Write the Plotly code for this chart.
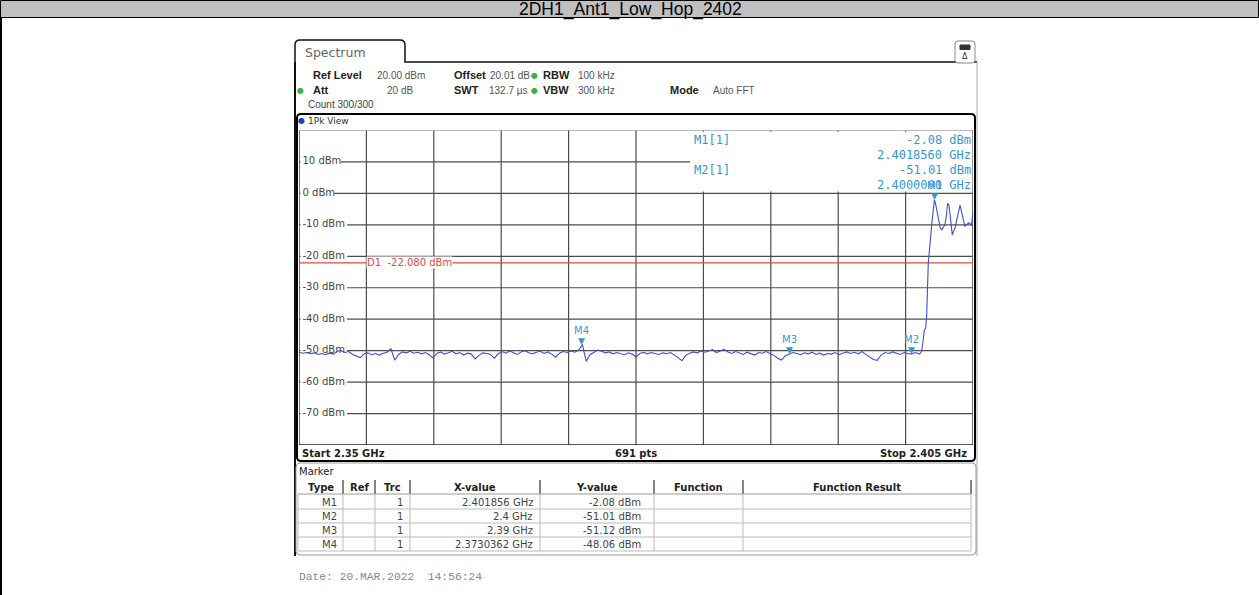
import numpy as np
import plotly.graph_objects as go

W, H = 1259, 595

# ---------------- data ----------------
freq_start_ghz, freq_stop_ghz = 2.35, 2.405
level_top_dbm, level_bottom_dbm = 20, -80

noise_start_ghz, noise_stop_ghz = 2.35, 2.40
noise_levels_dbm = [
    -50.4, -50.8, -50.6, -51.0, -50.7, -51.2, -50.9, -51.3, -50.8, -51.1,
    -50.2, -50.0, -50.6, -50.3, -51.2, -51.6, -52.2, -51.0, -50.7, -51.3,
    -50.9, -51.4, -50.8, -50.5, -49.4, -53.0, -51.2, -50.4, -50.7, -50.2,
    -50.8, -50.5, -51.0, -50.6, -51.3, -52.3, -50.9, -50.4, -51.1, -50.7,
    -50.2, -51.0, -50.6, -51.4, -50.8, -51.1, -52.6, -51.5, -50.7, -50.9,
    -51.2, -52.4, -51.0, -50.3, -50.8, -50.1, -50.6, -51.2, -50.4, -50.0,
    -50.7, -51.0, -50.5, -50.2, -50.9, -50.4, -51.1, -52.1, -50.8, -50.3,
    -50.6, -50.1, -50.5, -49.9, -48.06, -53.4, -51.3, -50.6, -49.8, -50.2,
    -50.7, -50.4, -51.0, -50.6, -50.9, -51.3, -50.7, -51.1, -52.0, -50.9,
    -50.5, -51.0, -50.6, -50.8, -51.2, -50.7, -51.0, -50.6, -51.3, -52.2,
    -53.2, -51.5, -50.8, -50.4, -50.7, -50.1, -50.5, -50.2, -49.7, -50.6,
    -50.0, -49.6, -50.4, -50.9, -50.3, -50.7, -51.2, -50.5, -50.9, -51.4,
    -50.6, -50.8, -50.3, -50.9, -51.5, -52.4, -53.0, -51.6, -51.12, -50.6,
    -50.9, -51.3, -50.7, -51.0, -50.5, -51.2, -50.8, -51.4, -50.9, -51.1,
    -50.6, -51.3, -50.8, -50.4, -50.9, -50.5, -51.0, -50.3, -51.2, -52.0,
    -52.8, -53.1, -51.4, -50.6, -50.9, -50.4, -50.8, -51.2, -50.6, -51.0,
    -51.01,
]
signal_freq_ghz = [
    2.40031, 2.40063, 2.40081, 2.40092, 2.40103, 2.40114, 2.40122, 2.40135,
    2.40149, 2.40163, 2.40175, 2.401856, 2.40198, 2.40217, 2.40233, 2.40245,
    2.40260, 2.40271, 2.40283, 2.40293, 2.40304, 2.40318, 2.40331, 2.40342,
    2.40353, 2.40370, 2.40385, 2.40394, 2.40408, 2.40421, 2.40433, 2.40448,
    2.40462, 2.40475, 2.40488, 2.40500,
]
signal_levels_dbm = [
    -50.6, -51.1, -50.3, -47.0, -43.4, -42.9, -38.7, -22.2,
    -14.8, -10.0, -5.5, -2.08, -4.0, -8.5, -11.0, -11.6,
    -10.8, -10.0, -7.0, -3.2, -3.7, -9.0, -13.2, -12.0,
    -11.1, -8.0, -4.5, -3.7, -6.0, -9.0, -10.4, -10.0,
    -9.4, -9.5, -10.2, -5.8,
]

marker_names = ["M1", "M2", "M3", "M4"]
marker_freq_ghz = [2.401856, 2.4, 2.39, 2.3730362]
marker_level_dbm = [-2.08, -51.01, -51.12, -48.06]
marker_x_text = ["2.401856 GHz", "2.4 GHz", "2.39 GHz", "2.3730362 GHz"]
marker_trace = ["1", "1", "1", "1"]

display_line_dbm = -22.08
y_tick_values = [10, 0, -10, -20, -30, -40, -50, -60, -70]
y_tick_labels = ["10 dBm", "0 dBm", "-10 dBm", "-20 dBm", "-30 dBm",
                 "-40 dBm", "-50 dBm", "-60 dBm", "-70 dBm"]
table_headers = ["Type", "Ref", "Trc", "X-value", "Y-value", "Function", "Function Result"]

# ---------------- styling helpers ----------------
UI = "DejaVu Sans"
HDR = "Liberation Sans"
MONO = "DejaVu Sans Mono"
MK = "#3a96d0"
TRACE = "#3f4fd0"
GRID = "#4d4d4d"

PLOT_X0, PLOT_X1 = 299, 973      # pixel extent of the grid
PLOT_Y0, PLOT_Y1 = 130.5, 445


def P(x):
    return x / W


def Q(y):
    return 1 - y / H


shapes = []
annotations = []


def line(x0, y0, x1, y1, color="#000", width=1, layer="above"):
    shapes.append(dict(type="line", xref="paper", yref="paper",
                       x0=P(x0), y0=Q(y0), x1=P(x1), y1=Q(y1),
                       line=dict(color=color, width=width), layer=layer))


def rect(x0, y0, x1, y1, fill=None, color=None, width=1, layer="above"):
    shapes.append(dict(type="rect", xref="paper", yref="paper",
                       x0=P(x0), y0=Q(y0), x1=P(x1), y1=Q(y1),
                       fillcolor=fill if fill else "rgba(0,0,0,0)",
                       line=dict(color=color if color else "rgba(0,0,0,0)", width=width),
                       layer=layer))


def rrect_path(x0, y0, x1, y1, r):
    return " ".join([
        f"M {P(x0 + r)},{Q(y0)}",
        f"L {P(x1 - r)},{Q(y0)}",
        f"Q {P(x1)},{Q(y0)} {P(x1)},{Q(y0 + r)}",
        f"L {P(x1)},{Q(y1 - r)}",
        f"Q {P(x1)},{Q(y1)} {P(x1 - r)},{Q(y1)}",
        f"L {P(x0 + r)},{Q(y1)}",
        f"Q {P(x0)},{Q(y1)} {P(x0)},{Q(y1 - r)}",
        f"L {P(x0)},{Q(y0 + r)}",
        f"Q {P(x0)},{Q(y0)} {P(x0 + r)},{Q(y0)} Z",
    ])


def text(s, x, y, anchor="left", size=10, color="#333", family=UI, bg=None,
         yanchor="middle", pad=1, yshift=0):
    d = dict(text=s, x=P(x), y=Q(y), xref="paper", yref="paper",
             xanchor=anchor, yanchor=yanchor, showarrow=False, borderpad=pad,
             yshift=yshift, font=dict(size=size, color=color, family=family))
    if bg:
        d["bgcolor"] = bg
    annotations.append(d)


# ---------------- grid (drawn as shapes below the trace) ----------------
div_ghz = (freq_stop_ghz - freq_start_ghz) / 10
for k in range(11):
    f = freq_start_ghz + k * div_ghz
    shapes.append(dict(type="line", xref="x", yref="paper", x0=f, x1=f,
                       y0=Q(PLOT_Y1), y1=Q(PLOT_Y0), layer="below",
                       line=dict(color="#222" if k in (0, 10) else GRID,
                                 width=1.3 if k in (0, 10) else 1.2)))
for v in range(level_bottom_dbm, level_top_dbm + 1, 10):
    shapes.append(dict(type="line", xref="paper", yref="y", x0=P(PLOT_X0), x1=P(PLOT_X1),
                       y0=v, y1=v, layer="below",
                       line=dict(color="#222" if v == level_bottom_dbm else
                                 ("#777" if v == level_top_dbm else GRID),
                                 width=1.3 if v == level_bottom_dbm else 1.2)))

# white area behind marker readouts (hides the grid there)
shapes.append(dict(type="rect", xref="paper", yref="paper",
                   x0=P(690), x1=P(972.3), y0=Q(191.5), y1=Q(131.8),
                   fillcolor="#fff", line=dict(width=0), layer="below"))

# y label backgrounds
for v, lab in zip(y_tick_values, y_tick_labels):
    w = 6.3 * len(lab) + 1
    shapes.append(dict(type="rect", xref="paper", yref="y",
                       x0=P(300.5), x1=P(302 + w), y0=v - 1.6, y1=v + 1.6,
                       fillcolor="#fff", line=dict(width=0), layer="below"))

# display line D1
shapes.append(dict(type="line", xref="paper", yref="y",
                   x0=P(PLOT_X0), x1=P(PLOT_X1),
                   y0=display_line_dbm, y1=display_line_dbm,
                   line=dict(color="#e04848", width=1.3), layer="below"))
annotations.append(dict(text=f"D1  {display_line_dbm:.3f} dBm", x=P(366), y=display_line_dbm,
                        xref="paper", yref="y", xanchor="left", yanchor="middle",
                        showarrow=False, bgcolor="#fff", borderpad=0,
                        font=dict(size=10, color="#e04848", family=UI)))

# ---------------- page frame ----------------
rect(0.5, 0.5, 1258.5, 17.5, fill="#c0c0c0", color="#000", width=1)
text("2DH1_Ant1_Low_Hop_2402", 630, 0, anchor="center", size=17.5,
     color="#000", family="Liberation Sans", yanchor="top", pad=0, yshift=2)
line(1, 17, 1, 595, width=2)

# ---------------- Spectrum panel ----------------
tab = (f"M {P(295)},{Q(62)} L {P(295)},{Q(45)} Q {P(295)},{Q(40)} {P(300)},{Q(40)} "
       f"L {P(400)},{Q(40)} Q {P(405)},{Q(40)} {P(405)},{Q(45)} L {P(405)},{Q(62)} "
       f"L {P(977)},{Q(62)}")
shapes.append(dict(type="path", xref="paper", yref="paper", path=tab,
                   line=dict(color="#111", width=1.5)))
line(295, 62, 295, 556, color="#111", width=2)
line(977, 62, 977, 556, color="#aaa", width=1)
text("Spectrum", 303, 52, size=12.5, color="#666")

# icon top right
shapes.append(dict(type="path", xref="paper", yref="paper",
                   path=rrect_path(955, 41, 975, 63, 3),
                   line=dict(color="#888", width=1), fillcolor="#fff"))
rect(960, 45, 970, 49.5, fill="#333", color="#333")
text("Δ", 965, 56.5, anchor="center", size=8, color="#333")

# header lines
GREEN = "#3cb043"
text("<b>Ref Level</b>", 311, 75, size=11, family=HDR, color="#222")
text("20.00 dBm", 375, 75, size=10, family=HDR, color="#555")
text("<b>Offset</b>", 452, 75, size=11, family=HDR, color="#222")
text("20.01 dB", 488, 75, size=10, family=HDR, color="#555")
text("●", 534, 75, anchor="center", size=8, color=GREEN)
text("<b>RBW</b>", 541, 75, size=11, family=HDR, color="#222")
text("100 kHz", 576, 75, size=10, family=HDR, color="#555")

text("●", 300, 90, anchor="center", size=8, color=GREEN)
text("<b>Att</b>", 311, 90, size=11, family=HDR, color="#222")
text("20 dB", 415, 90, anchor="right", size=10, family=HDR, color="#555")
text("<b>SWT</b>", 452, 90, size=11, family=HDR, color="#222")
text("132.7 µs", 487, 90, size=10, family=HDR, color="#555")
text("●", 534, 90, anchor="center", size=8, color=GREEN)
text("<b>VBW</b>", 541, 90, size=11, family=HDR, color="#222")
text("300 kHz", 576, 90, size=10, family=HDR, color="#555")
text("<b>Mode</b>", 668, 90, size=11, family=HDR, color="#222")
text("Auto FFT", 711, 90, size=10, family=HDR, color="#555")
text("Count 300/300", 306, 104, size=10, family=HDR, color="#444")

# plot box
shapes.append(dict(type="path", xref="paper", yref="paper",
                   path=rrect_path(297, 114, 975, 461, 4),
                   line=dict(color="#000", width=2)))
text("●", 301.5, 121, anchor="center", size=8, color="#2040c0")
text("1Pk View", 306, 121, size=9, color="#333")

# marker readouts
text("M1[1]", 692, 140, size=12, color=MK, family=MONO)
text(f"{marker_level_dbm[0]:.2f} dBm", 973, 140, anchor="right", size=12, color=MK, family=MONO)
text(f"{marker_freq_ghz[0]:.7f} GHz", 973, 155, anchor="right", size=12, color=MK, family=MONO)
text("M2[1]", 692, 170, size=12, color=MK, family=MONO)
text(f"{marker_level_dbm[1]:.2f} dBm", 973, 170, anchor="right", size=12, color=MK, family=MONO)
text(f"{marker_freq_ghz[1]:.7f} GHz", 973, 185, anchor="right", size=12, color=MK, family=MONO)

# markers on trace
for name, f, lv in zip(marker_names, marker_freq_ghz, marker_level_dbm):
    annotations.append(dict(text="▼", x=f, y=lv, xref="x", yref="y",
                            xanchor="center", yanchor="bottom", yshift=-3,
                            showarrow=False, font=dict(size=9, color=MK, family=UI)))
    annotations.append(dict(text=name, x=f, y=lv, xref="x", yref="y",
                            xanchor="center", yanchor="bottom", yshift=7,
                            showarrow=False, font=dict(size=10, color=MK, family=UI)))

# bottom row of plot
text("<b>Start 2.35 GHz</b>", 300, 453, size=10, color="#222")
text("<b>691 pts</b>", 636, 453, anchor="center", size=10, color="#222")
text("<b>Stop 2.405 GHz</b>", 969, 453, anchor="right", size=10, color="#222")

# ---------------- marker table ----------------
shapes.append(dict(type="path", xref="paper", yref="paper",
                   path=rrect_path(296, 463, 976, 555, 4),
                   line=dict(color="#999", width=1)))
text("Marker", 297, 471, size=10, color="#222")
col_edges = [298, 343, 375, 410, 540, 654, 743, 971]
header_top, header_bot = 480, 494
row_centers = [502, 516, 530, 544]
row_bottoms = [509, 523, 537, 551]
for xe in col_edges[1:]:
    line(xe, header_top, xe, header_bot, color="#333", width=1.2)
line(col_edges[0], header_bot, col_edges[-1], header_bot, color="#999", width=1)
for xe in col_edges:
    line(xe, header_bot, xe, row_bottoms[-1], color="#bbb", width=1)
for yb in row_bottoms:
    line(col_edges[0], yb, col_edges[-1], yb, color="#bbb", width=1)
for i, h in enumerate(table_headers):
    text(f"<b>{h}</b>", (col_edges[i] + col_edges[i + 1]) / 2, 487, anchor="center",
         size=10, color="#222")
for r, yc in enumerate(row_centers):
    text(marker_names[r], col_edges[1] - 4, yc, anchor="right", size=10, color="#444")
    text(marker_trace[r], col_edges[3] - 5, yc, anchor="right", size=10, color="#444")
    text(marker_x_text[r], col_edges[4] - 5, yc, anchor="right", size=10, color="#444")
    text(f"{marker_level_dbm[r]:.2f} dBm", col_edges[5] - 11, yc, anchor="right",
         size=10, color="#444")

text("Date: 20.MAR.2022  14:56:24", 297, 577, size=11.3, color="#888",
     family="Liberation Mono")

# ---------------- traces ----------------
noise_freq = np.linspace(noise_start_ghz, noise_stop_ghz, len(noise_levels_dbm))
trace_f = np.concatenate([noise_freq, signal_freq_ghz])
trace_l = np.concatenate([noise_levels_dbm, signal_levels_dbm])

label_x = freq_start_ghz + (freq_stop_ghz - freq_start_ghz) * 3.5 / (PLOT_X1 - PLOT_X0)

fig = go.Figure()
fig.add_trace(go.Scatter(x=[label_x] * len(y_tick_values), y=y_tick_values,
                         mode="text", text=y_tick_labels, textposition="middle right",
                         textfont=dict(size=10, color="#444", family=UI),
                         hoverinfo="skip", cliponaxis=False))
fig.add_trace(go.Scatter(x=trace_f, y=trace_l, mode="lines",
                         line=dict(color=TRACE, width=1.1), hoverinfo="skip"))

fig.update_layout(
    width=W, height=H, margin=dict(l=0, r=0, t=0, b=0),
    paper_bgcolor="#fff", plot_bgcolor="rgba(0,0,0,0)", showlegend=False,
    shapes=shapes, annotations=annotations,
    xaxis=dict(domain=[P(PLOT_X0), P(PLOT_X1)], range=[freq_start_ghz, freq_stop_ghz],
               showgrid=False, zeroline=False, showticklabels=False, ticks="",
               showline=False),
    yaxis=dict(domain=[Q(PLOT_Y1), Q(PLOT_Y0)], range=[level_bottom_dbm, level_top_dbm],
               showgrid=False, zeroline=False, showticklabels=False, ticks="",
               showline=False),
)

fig.write_html("out.html", config={"displayModeBar": False},
               post_script="document.body.style.margin='0px';")
